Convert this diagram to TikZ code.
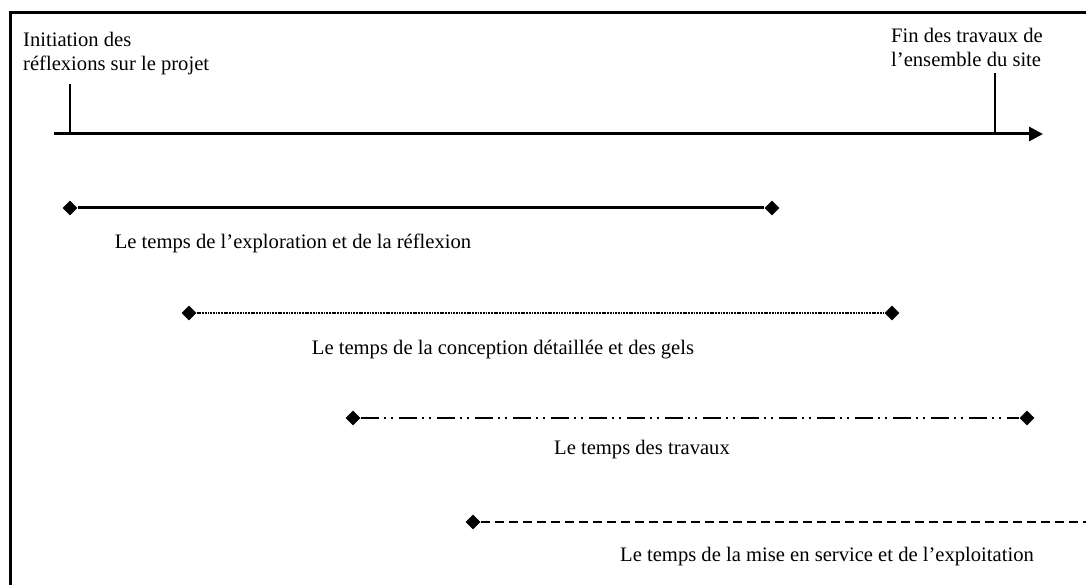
\documentclass[tikz,border=0pt]{standalone}
\usepackage{fontspec}
\setmainfont{Liberation Serif}
\usetikzlibrary{arrows.meta,shapes.geometric}
\begin{document}
\begin{tikzpicture}[x=1pt,y=-1pt,
  every node/.style={font=\fontsize{20.6}{24}\selectfont, inner sep=0pt},
  lbl/.style={anchor=center},
  dia/.style={diamond, fill=black, minimum width=15pt, minimum height=15pt, inner sep=0pt},
  frame/.style={line width=3pt},
  axis/.style={line width=3pt, -{Triangle[length=14pt,width=14pt]}},
  tick/.style={line width=2.4pt},
  solidspan/.style={line width=3pt},
  dotspan/.style={line width=2.6pt, dash pattern=on 1.8pt off 0.9pt},
  dashdotspan/.style={line width=2.8pt, dash pattern=on 18pt off 5pt on 2pt off 5pt on 2pt off 6pt},
  dashspan/.style={line width=2.8pt, dash pattern=on 9pt off 5pt}]
\useasboundingbox (0,0) rectangle (1086,585);
% frame
\coordinate (fbl) at (10,587);
\coordinate (ftl) at (10,13);
\coordinate (ftr) at (1088,13);
\draw[frame] (fbl) -- (ftl) -- (ftr);
% axis
\coordinate (as) at (54,134);
\coordinate (ae) at (1043,134);
\draw[axis] (as) -- (ae);
\coordinate (t1b) at (70,134);
\coordinate (t1t) at (70,84);
\coordinate (t2b) at (995,134);
\coordinate (t2t) at (995,73);
\draw[tick] (t1b) -- (t1t);
\draw[tick] (t2b) -- (t2t);
\node[anchor=west, align=left] (start) at (23,54) {Initiation des\\réflexions sur le projet};
\node[anchor=west, align=left] (fin) at (891,47) {Fin des travaux de\\l’ensemble du site};
% span 1
\node[dia] (a1) at (70,208) {};
\node[dia] (b1) at (772,208) {};
\draw[solidspan] (a1) -- (b1);
\node[lbl] (l1) at (293,243) {Le temps de l’exploration et de la réflexion};
% span 2
\node[dia] (a2) at (189,313) {};
\node[dia] (b2) at (892,313) {};
\draw[dotspan] (a2) -- (b2);
\node[lbl] (l2) at (503,350) {Le temps de la conception détaillée et des gels};
% span 3
\node[dia] (a3) at (353,418) {};
\node[dia] (b3) at (1027,418) {};
\draw[dashdotspan] (a3) -- (b3);
\node[lbl] (l3) at (642,450) {Le temps des travaux};
% span 4
\node[dia] (a4) at (473,522) {};
\coordinate (b4) at (1088,522);
\draw[dashspan] (a4) -- (b4);
\node[lbl] (l4) at (827,557) {Le temps de la mise en service et de l’exploitation};
\end{tikzpicture}
\end{document}
